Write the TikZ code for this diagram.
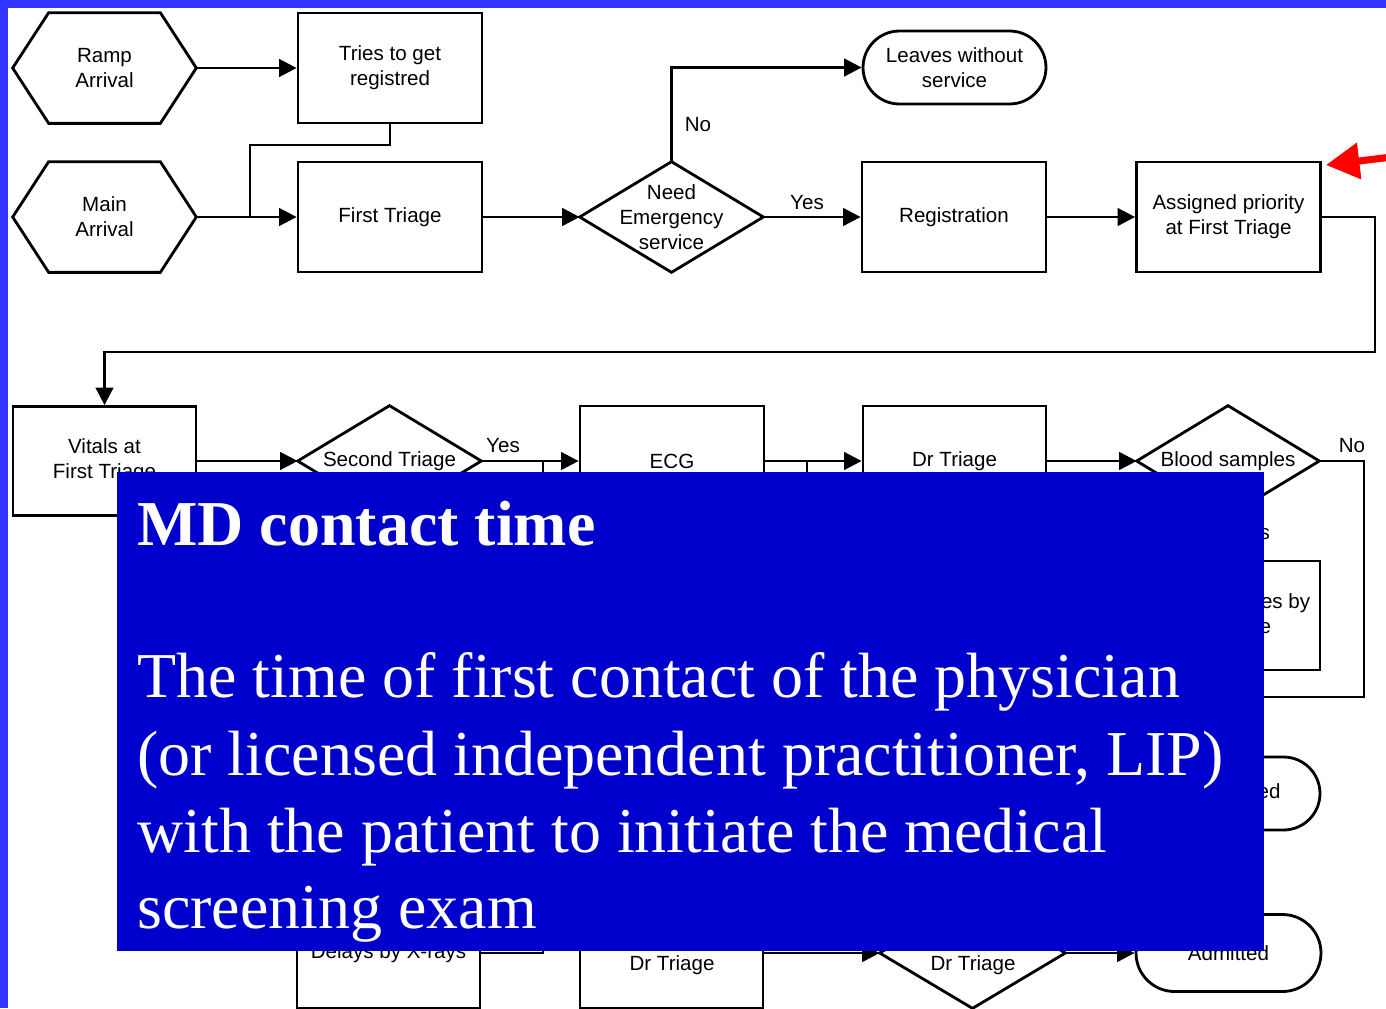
\documentclass[tikz,border=0pt]{standalone}
\usepackage{fontspec}
\setmainfont{Liberation Serif}
\newfontfamily\arialfont{Liberation Sans}
\usetikzlibrary{arrows.meta,shapes.misc}
\definecolor{frameblue}{HTML}{3333FF}
\definecolor{panelblue}{HTML}{0000CC}
\definecolor{pointred}{HTML}{FF0000}

% outlines drawn around invisible rectangular frames
\newcommand\hexoutline[1]{%
  \draw[outline] (#1.west) -- ([xshift=0.72cm]#1.north west) -- ([xshift=-0.72cm]#1.north east)
    -- (#1.east) -- ([xshift=-0.72cm]#1.south east) -- ([xshift=0.72cm]#1.south west) -- cycle;}
\newcommand\rhombusoutline[1]{%
  \draw[outline] (#1.west) -- (#1.north) -- (#1.east) -- (#1.south) -- cycle;}

\begin{document}
\begin{tikzpicture}[x=0.02cm,y=-0.02cm,
  flow/.style={font=\arialfont\fontsize{11.7}{14.2}\selectfont, align=center, inner sep=0pt},
  box/.style={flow, draw, line width=1.6pt, rectangle, minimum width=3.68cm, minimum height=2.2cm},
  shapebox/.style={flow, rectangle, minimum width=3.66cm, minimum height=2.2cm},
  term/.style={flow, draw, line width=1.6pt, rounded rectangle, minimum width=3.66cm, minimum height=1.46cm},
  outline/.style={line width=1.6pt, line join=miter},
  link/.style={line width=1.6pt, -{Triangle[length=10pt,width=10pt]}},
  wire/.style={line width=1.6pt},
  choice/.style={flow},
  slide/.style={font=\fontsize{36.4}{43}\selectfont, text=white, inner sep=0pt, anchor=base west},
]
\useasboundingbox (0,0) rectangle (1386,1008);
\fill[white] (0,0) rectangle (1386,1008);

% ---------- first row ----------
\node[shapebox] (ramp) at (104.5,68) {Ramp\\Arrival};
\hexoutline{ramp}
\node[shapebox] (main) at (104.5,217) {Main\\Arrival};
\hexoutline{main}
\node[box] (tries) at (390,68) {Tries to get\\registred};
\node[box] (first) at (390,217) {First Triage};
\node[shapebox, minimum width=3.66cm] (need) at (671.5,217) {Need\\Emergency\\service};
\rhombusoutline{need}
\node[term] (leaves) at (954.5,67.5) {Leaves without\\service};
\node[box] (reg) at (954,217) {Registration};
\node[box] (assigned) at (1228.5,217) {Assigned priority\\at First Triage};

\coordinate (b1) at (250,145);
\coordinate (j1) at (250,217);
\coordinate (c1) at (1375,352);

\draw[link] (ramp.east) -- (tries.west);
\draw[link] (main.east) -- (first.west);
\draw[wire] (tries.south) |- (b1) -- (j1);
\draw[link] (first.east) -- (need.west);
\draw[link] (need.north) |- (leaves.west);
\node[choice] (lno) at (698,125) {No};
\draw[link] (need.east) -- (reg.west);
\node[choice] (lyes) at (807,203) {Yes};
\draw[link] (reg.east) -- (assigned.west);

% ---------- second row ----------
\node[box, minimum width=3.66cm, minimum height=2.18cm] (vitals) at (104.5,461) {Vitals at\\First Triage};
\node[shapebox] (second) at (389.5,461) {Second Triage};
\rhombusoutline{second}
\node[box, minimum height=2.2cm] (ecg) at (672,461) {ECG};
\node[box, minimum width=3.66cm] (drtri) at (954.5,461) {Dr Triage};
\node[shapebox, minimum width=3.64cm] (blood) at (1228,461) {Blood samples};
\rhombusoutline{blood}
\node[box, minimum width=3.66cm, minimum height=2.18cm] (takes) at (1228.5,615.5) {Takes samples by\\Dr Triage};
\node[term] (disch) at (1228.5,793.5) {Discharged};

\coordinate (j2) at (543,461);
\coordinate (j3) at (807,461);
\coordinate (k3) at (807,600);
\coordinate (c2) at (1364,697);
\coordinate (j4) at (1228.5,697);

\draw[link] (assigned.east) -| (c1) -| (vitals.north);
\draw[link] (vitals.east) -- (second.west);
\draw[link] (second.east) -- (ecg.west);
\node[choice] (lyes2) at (503,446) {Yes};
\draw[link] (ecg.east) -- (drtri.west);
\draw[wire] (k3) -- (j3);
\draw[link] (drtri.east) -- (blood.west);
\draw[wire] (blood.east) -| (c2) -- (j4);
\node[choice] (lno2) at (1352,446) {No};
\draw[link] (blood.south) -- (takes.north);
\node[choice] (lyes3) at (1253,533) {Yes};
\draw[link] (takes.south) -- (disch.north);

% ---------- bottom row ----------
\node[box, minimum width=3.66cm] (xrays) at (388.5,953) {Delays by X-rays};
\node[box, minimum width=3.66cm] (drb) at (671.5,953) {};
\node[flow] (drbtext) at (672,965) {Dr Triage};
\node[shapebox, minimum width=3.7cm] (drd) at (972.5,953) {};
\rhombusoutline{drd}
\node[flow] (drdtext) at (973,965) {Dr Triage};
\node[term, minimum width=3.7cm, minimum height=1.54cm] (adm) at (1228.5,953) {Admitted};

\draw[wire] (xrays.east) -| (j2);
\draw[link] (drb.east) -- (drd.west);
\draw[link] (drd.east) -- (adm.west);

% ---------- slide frame ----------
\fill[frameblue] (0,0) rectangle (8,1008);
\fill[frameblue] (0,0) rectangle (1386,8);

% pointer to the priority step
\coordinate (redtail) at (1392,157);
\coordinate (redtip) at (1326,165);
\draw[pointred, line width=4pt, -{Triangle[length=19pt,width=20pt]}] (redtail) -- (redtip);

% definition panel
\node[fill=panelblue, inner sep=0pt, minimum width=22.94cm, minimum height=9.58cm, anchor=north west] (panel) at (117,472) {};
\node[slide, font=\fontsize{36.4}{43}\selectfont\bfseries] (title) at (137,545) {MD contact time};
\node[slide] (line1) at (137,697) {The time of first contact of the physician};
\node[slide] (line2) at (137,775) {(or licensed independent practitioner, LIP)};
\node[slide] (line3) at (137,852) {with the patient to initiate the medical};
\node[slide] (line4) at (137,928) {screening exam};
\end{tikzpicture}
\end{document}
